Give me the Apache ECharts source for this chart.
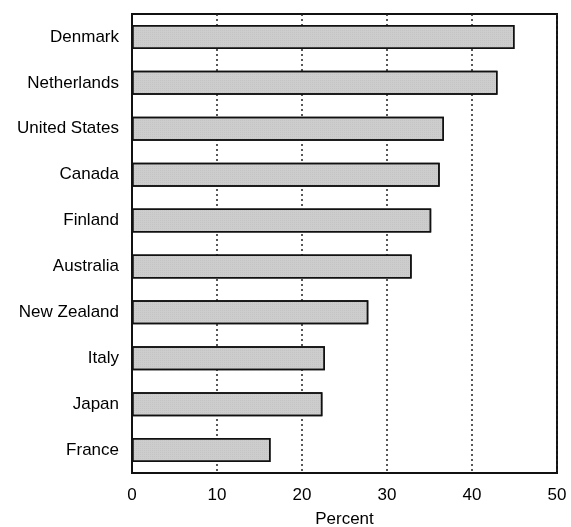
<!DOCTYPE html>
<html>
<head>
<meta charset="utf-8">
<script src="https://cdn.jsdelivr.net/npm/echarts@6/dist/echarts.min.js"></script>
<style>html,body{margin:0;padding:0;background:#fff;}#c{width:571px;height:527px;}</style>
</head>
<body>
<div id="c"></div>
<script>
const countries = ["Denmark","Netherlands","United States","Canada","Finland","Australia","New Zealand","Italy","Japan","France"];
const percent = [45.0, 43.0, 36.7, 36.2, 35.2, 32.9, 27.8, 22.7, 22.4, 16.3];
const xTicks = [0, 10, 20, 30, 40, 50];

const chart = echarts.init(document.getElementById('c'), null, {renderer: 'canvas'});
const font = 'Liberation Sans, Arial, sans-serif';
chart.setOption({
  animation: false,
  backgroundColor: '#ffffff',
  grid: {left: 132, right: 14, top: 14, bottom: 54, containLabel: false, outerBoundsMode: 'none',
    show: true, borderColor: '#111', borderWidth: 2, backgroundColor: 'transparent'},
  xAxis: {
    type: 'value', min: xTicks[0], max: xTicks[xTicks.length-1], interval: 10,
    name: 'Percent', nameLocation: 'middle', nameGap: 38,
    nameTextStyle: {fontFamily: font, fontSize: 17, color: '#000'},
    axisLine: {show: false}, axisTick: {show: false},
    axisLabel: {fontFamily: font, fontSize: 17, color: '#000', margin: 14,
      formatter: v => xTicks.includes(v) ? String(v) : ''},
    splitLine: {show: true, lineStyle: {color: '#222', type: [2, 3], width: 1.5}}
  },
  yAxis: {
    type: 'category', data: countries, inverse: true,
    axisLine: {show: true, lineStyle: {color: '#111', width: 2}},
    axisTick: {show: false},
    axisLabel: {fontFamily: font, fontSize: 17, color: '#000', margin: 13}
  },
  series: [{
    type: 'bar', data: percent, barWidth: 24,
    itemStyle: {color: '#cdcdcd', borderColor: '#111', borderWidth: 1.5,
      decal: {symbol: 'rect', symbolSize: 0.6, dashArrayX: [1, 1], dashArrayY: [1, 1], color: 'rgba(120,120,120,0.35)', rotation: 0}}
  }]
});
</script>
</body>
</html>
